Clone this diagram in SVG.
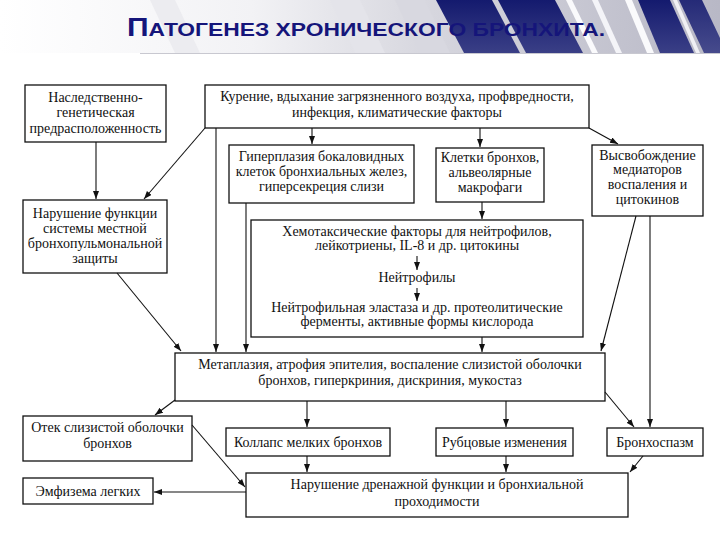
<svg xmlns="http://www.w3.org/2000/svg" width="720" height="540" viewBox="0 0 720 540">
<defs>
<linearGradient id="band" x1="0" y1="0" x2="1" y2="0">
<stop offset="0" stop-color="#ffffff"/>
<stop offset="0.35" stop-color="#f2f2f5"/>
<stop offset="0.6" stop-color="#d6d6de"/>
<stop offset="1" stop-color="#b8b8c6"/>
</linearGradient>
<linearGradient id="navy" x1="0" y1="0" x2="0" y2="1">
<stop offset="0" stop-color="#141a6e"/>
<stop offset="1" stop-color="#3a3f86"/>
</linearGradient>
<marker id="ah" markerUnits="userSpaceOnUse" markerWidth="9" markerHeight="7" refX="8" refY="3" orient="auto">
<path d="M0,0 L8,3 L0,6 z" fill="#111"/>
</marker>
<style>
.box{fill:#fff;stroke:#111;stroke-width:1.3}
.t{font-family:"Liberation Serif","Times New Roman",serif;font-size:14px;fill:#111;text-anchor:middle}
.c{fill:none;stroke:#111;stroke-width:1.1;marker-end:url(#ah)}
.title{font-family:"Liberation Sans",Arial,sans-serif;font-weight:bold;fill:#15157a}
</style>
</defs>
<g id="header">
<rect x="0" y="0" width="720" height="53" fill="url(#band)"/>
<polygon points="150,0 175,0 200,53 175,53" fill="#ececf0"/>
<polygon points="330,0 360,0 385,53 355,53" fill="#e4e4ea"/>
<polygon points="395,0 425,0 450,53 420,53" fill="#d8d8e0"/>
<polygon points="436,0 492,0 520,53 464,53" fill="url(#navy)"/>
<polygon points="498,0 555,0 583,53 526,53" fill="url(#navy)"/>
<polygon points="566,0 572,0 598,53 592,53" fill="#fafafc"/>
<polygon points="592,0 598,0 622,53 616,53" fill="#f4f4f8"/>
<polygon points="625,0 632,0 654,53 647,53" fill="#fafafc"/>
<polygon points="638,0 670,0 694,53 660,53" fill="url(#navy)"/>
<polygon points="673,0 677,0 700,53 696,53" fill="#f0f0f4"/>
<polygon points="679,0 702,0 720,38 720,53 704,53" fill="url(#navy)" opacity="0.9"/>
<line x1="140" y1="53.5" x2="720" y2="53.5" stroke="#c8c8d0" stroke-width="1"/>
<text class="title" x="127" y="36" textLength="478" lengthAdjust="spacingAndGlyphs"><tspan font-size="25">П</tspan><tspan font-size="19">АТОГЕНЕЗ ХРОНИЧЕСКОГО БРОНХИТА.</tspan></text>
</g>
<g id="n1"><rect class="box" x="25" y="85" width="141" height="57"/>
<text class="t" x="95.5" y="102">Наследственно-</text><text class="t" x="95.5" y="117">генетическая</text><text class="t" x="95.5" y="133">предрасположенность</text></g>
<g id="n2"><rect class="box" x="205" y="85" width="384" height="43"/>
<text class="t" x="397" y="101">Курение, вдыхание загрязненного воздуха, профвредности,</text><text class="t" x="397" y="117">инфекция, климатические факторы</text></g>
<g id="n3"><rect class="box" x="229" y="145" width="185" height="58"/>
<text class="t" x="321.5" y="161">Гиперплазия бокаловидных</text><text class="t" x="321.5" y="176">клеток бронхиальных желез,</text><text class="t" x="321.5" y="191">гиперсекреция слизи</text></g>
<g id="n4"><rect class="box" x="436" y="148" width="108" height="54"/>
<text class="t" x="490" y="162">Клетки бронхов,</text><text class="t" x="490" y="177">альвеолярные</text><text class="t" x="490" y="192">макрофаги</text></g>
<g id="n5"><rect class="box" x="592" y="145" width="111" height="71"/>
<text class="t" x="647.5" y="160">Высвобождение</text><text class="t" x="647.5" y="174">медиаторов</text><text class="t" x="647.5" y="189">воспаления и</text><text class="t" x="647.5" y="204">цитокинов</text></g>
<g id="n6"><rect class="box" x="23" y="200" width="144" height="73"/>
<text class="t" x="95" y="218">Нарушение функции</text><text class="t" x="95" y="233">системы местной</text><text class="t" x="95" y="248">бронхопульмональной</text><text class="t" x="95" y="263">защиты</text></g>
<g id="n7"><rect class="box" x="251" y="220" width="332" height="117"/>
<text class="t" x="417" y="236">Хемотаксические факторы для нейтрофилов,</text><text class="t" x="417" y="250">лейкотриены, IL-8 и др. цитокины</text><text class="t" x="417" y="282">Нейтрофилы</text><text class="t" x="417" y="312">Нейтрофильная эластаза и др. протеолитические</text><text class="t" x="417" y="326">ферменты, активные формы кислорода</text></g>
<g id="n8"><rect class="box" x="175" y="353" width="430" height="48"/>
<text class="t" x="390" y="369">Метаплазия, атрофия эпителия, воспаление слизистой оболочки</text><text class="t" x="390" y="385">бронхов, гиперкриния, дискриния, мукостаз</text></g>
<g id="n9"><rect class="box" x="23" y="416" width="169" height="45"/>
<text class="t" x="107.5" y="432">Отек слизистой оболочки</text><text class="t" x="107.5" y="448">бронхов</text></g>
<g id="n10"><rect class="box" x="226" y="428" width="164" height="28"/>
<text class="t" x="308" y="447">Коллапс мелких бронхов</text></g>
<g id="n11"><rect class="box" x="436" y="428" width="137" height="28"/>
<text class="t" x="504.5" y="447">Рубцовые изменения</text></g>
<g id="n12"><rect class="box" x="607" y="428" width="96" height="28"/>
<text class="t" x="655" y="447">Бронхоспазм</text></g>
<g id="n13"><rect class="box" x="23" y="478" width="130" height="26"/>
<text class="t" x="88" y="496">Эмфизема легких</text></g>
<g id="n14"><rect class="box" x="246" y="473" width="382" height="44"/>
<text class="t" x="437" y="489">Нарушение дренажной функции и бронхиальной</text><text class="t" x="437" y="506">проходимости</text></g>
<g id="connectors">
<path class="c" d="M96,142 L96,199"/>
<path class="c" d="M205,128 L144,199"/>
<path class="c" d="M312,128 L312,144"/>
<path class="c" d="M480,128 L480,147"/>
<path class="c" d="M589,128 L618,144"/>
<path class="c" d="M216,128 L216,352"/>
<path class="c" d="M246,203 L246,352"/>
<path class="c" d="M482,202 L482,219"/>
<path class="c" d="M482,337 L482,352"/>
<path class="c" d="M417,256 L417,270"/>
<path class="c" d="M417,288 L417,301"/>
<path class="c" d="M636,216 L601,351"/>
<path class="c" d="M650,216 L650,427"/>
<path class="c" d="M117,273 L181,351"/>
<path class="c" d="M175,400 L155,415"/>
<path class="c" d="M307,401 L307,427"/>
<path class="c" d="M506,401 L506,427"/>
<path class="c" d="M605,392 L634,427"/>
<path class="c" d="M307,456 L307,472"/>
<path class="c" d="M506,456 L506,472"/>
<path class="c" d="M643,456 L630,472"/>
<path class="c" d="M192,425 L245,487"/>
<path class="c" d="M246,492 L154,492"/>
</g>
</svg>
